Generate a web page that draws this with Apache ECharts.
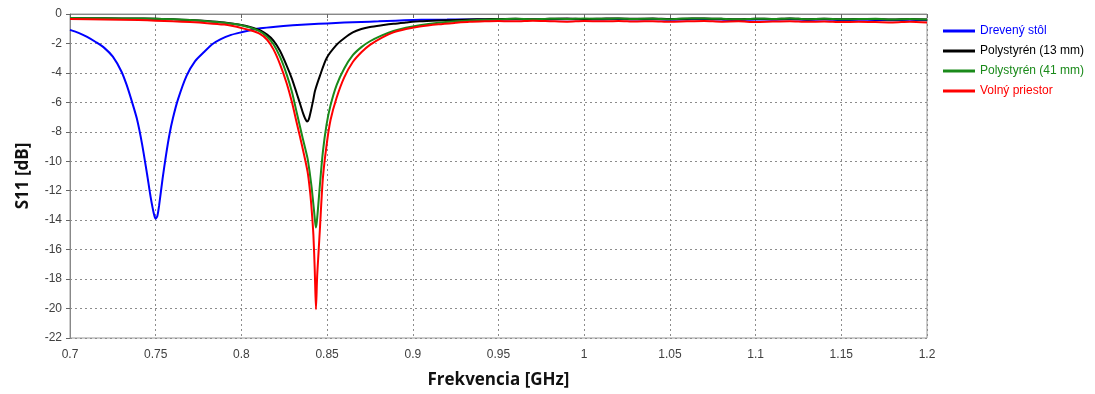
<!DOCTYPE html>
<html>
<head>
<meta charset="utf-8">
<script src="https://cdn.jsdelivr.net/npm/echarts@6/dist/echarts.min.js"></script>
<style>html,body{margin:0;padding:0;background:#fff}#c{width:1095px;height:394px}</style>
</head>
<body>
<div id="c"></div>
<script>
var seriesNames = ['Drevený stôl', 'Polystyrén (13 mm)', 'Polystyrén (41 mm)', 'Volný priestor'];
var xTicks = [0.7, 0.75, 0.8, 0.85, 0.9, 0.95, 1, 1.05, 1.1, 1.15, 1.2];
var yTicks = [0, -2, -4, -6, -8, -10, -12, -14, -16, -18, -20, -22];

var flatFreq = [0.95, 0.96, 0.97, 0.98, 0.99, 1.0, 1.01, 1.02, 1.03, 1.04, 1.05, 1.06, 1.07, 1.08, 1.09, 1.1, 1.11, 1.12, 1.13, 1.14, 1.15, 1.16, 1.17, 1.18, 1.19, 1.2];

var drevenyFreq = [0.700, 0.705, 0.710, 0.715, 0.720, 0.725, 0.730, 0.733, 0.736, 0.739, 0.742, 0.745, 0.747, 0.749, 0.750, 0.751, 0.752, 0.754, 0.756, 0.758, 0.760, 0.763, 0.768, 0.773, 0.778, 0.783, 0.788, 0.794, 0.800, 0.806, 0.811, 0.820, 0.830, 0.840, 0.850, 0.860, 0.870, 0.880, 0.890, 0.900, 0.910, 0.920, 0.930, 0.940];
var drevenyS11 = [-1.08, -1.28, -1.55, -1.9, -2.3, -2.9, -3.9, -4.8, -5.9, -7.1, -8.8, -10.9, -12.4, -13.6, -13.9, -13.7, -13.0, -11.2, -9.6, -8.2, -7.1, -5.8, -4.2, -3.2, -2.6, -2.05, -1.7, -1.42, -1.24, -1.08, -0.97, -0.86, -0.77, -0.70, -0.64, -0.58, -0.54, -0.5, -0.45, -0.41, -0.39, -0.38, -0.37, -0.37];
var drevenyFlat = [-0.38, -0.36, -0.39, -0.37, -0.35, -0.38, -0.37, -0.34, -0.38, -0.36, -0.39, -0.37, -0.35, -0.38, -0.4, -0.37, -0.39, -0.36, -0.4, -0.38, -0.41, -0.39, -0.4, -0.42, -0.39, -0.43];

var poly13Freq = [0.700, 0.720, 0.740, 0.750, 0.760, 0.770, 0.780, 0.790, 0.800, 0.805, 0.8108, 0.815, 0.8187, 0.8225, 0.8264, 0.8295, 0.8323, 0.8345, 0.836, 0.8372, 0.8383, 0.8393, 0.8405, 0.8418, 0.843, 0.8458, 0.8497, 0.8555, 0.860, 0.865, 0.870, 0.875, 0.882, 0.8887, 0.896, 0.904, 0.915, 0.925, 0.933, 0.942];
var poly13S11 = [-0.28, -0.29, -0.31, -0.32, -0.36, -0.41, -0.48, -0.58, -0.74, -0.88, -1.1, -1.4, -1.8, -2.5, -3.5, -4.4, -5.4, -6.2, -6.75, -7.1, -7.3, -7.15, -6.6, -5.9, -5.2, -4.2, -3.0, -2.1, -1.65, -1.25, -1.02, -0.88, -0.76, -0.66, -0.58, -0.5, -0.44, -0.4, -0.37, -0.35];
var poly13Flat = [-0.34, -0.32, -0.35, -0.33, -0.31, -0.34, -0.32, -0.3, -0.33, -0.31, -0.34, -0.32, -0.3, -0.33, -0.35, -0.32, -0.34, -0.31, -0.35, -0.33, -0.36, -0.34, -0.35, -0.37, -0.34, -0.38];

var poly41Freq = [0.700, 0.720, 0.740, 0.750, 0.760, 0.770, 0.780, 0.790, 0.800, 0.805, 0.8108, 0.815, 0.8187, 0.8225, 0.8264, 0.8295, 0.8323, 0.8355, 0.8386, 0.840, 0.841, 0.8418, 0.8425, 0.843, 0.8435, 0.844, 0.8447, 0.8458, 0.8475, 0.8497, 0.852, 0.8555, 0.860, 0.865, 0.870, 0.875, 0.882, 0.8887, 0.896, 0.904, 0.915, 0.925, 0.933, 0.942];
var poly41S11 = [-0.27, -0.29, -0.31, -0.32, -0.36, -0.41, -0.49, -0.6, -0.76, -0.92, -1.18, -1.55, -2.05, -2.9, -4.1, -5.3, -6.7, -8.3, -9.8, -10.9, -11.8, -12.7, -13.5, -14.1, -14.5, -14.1, -13.2, -11.6, -9.4, -7.5, -6.2, -4.84, -3.7, -2.8, -2.25, -1.85, -1.45, -1.15, -0.93, -0.76, -0.6, -0.5, -0.44, -0.39];
var poly41Flat = [-0.36, -0.33, -0.35, -0.32, -0.34, -0.31, -0.33, -0.3, -0.34, -0.32, -0.35, -0.31, -0.3, -0.33, -0.36, -0.32, -0.34, -0.31, -0.35, -0.33, -0.36, -0.34, -0.33, -0.37, -0.34, -0.38];

var volnyFreq = [0.700, 0.720, 0.740, 0.750, 0.760, 0.770, 0.780, 0.790, 0.795, 0.800, 0.805, 0.8108, 0.815, 0.8187, 0.8225, 0.8264, 0.8295, 0.8323, 0.8355, 0.8386, 0.840, 0.841, 0.842, 0.8428, 0.8435, 0.8442, 0.845, 0.8458, 0.8475, 0.8497, 0.852, 0.8555, 0.860, 0.865, 0.870, 0.875, 0.882, 0.8887, 0.896, 0.904, 0.915, 0.925, 0.933, 0.942];
var volnyS11 = [-0.34, -0.37, -0.41, -0.45, -0.5, -0.55, -0.62, -0.72, -0.82, -0.95, -1.1, -1.35, -1.75, -2.4, -3.4, -4.7, -6.0, -7.4, -9.0, -10.7, -12.0, -13.3, -15.0, -17.4, -20.05, -17.8, -16.2, -14.6, -11.2, -8.9, -7.2, -5.7, -4.3, -3.26, -2.6, -2.1, -1.6, -1.25, -1.02, -0.85, -0.7, -0.6, -0.53, -0.49];
var volnyFlat = [-0.47, -0.5, -0.46, -0.49, -0.52, -0.48, -0.5, -0.47, -0.51, -0.49, -0.53, -0.5, -0.48, -0.52, -0.5, -0.54, -0.51, -0.49, -0.53, -0.51, -0.55, -0.52, -0.54, -0.57, -0.53, -0.58];

function pairs(fx, fy, flat) {
  var out = [];
  for (var i = 0; i < fx.length; i++) out.push([fx[i], fy[i]]);
  for (var j = 0; j < flatFreq.length; j++) out.push([flatFreq[j], flat[j]]);
  return out;
}

var colors = ['#0000ff', '#000000', '#1a8a1a', '#ff0000'];
var dataSets = [
  pairs(drevenyFreq, drevenyS11, drevenyFlat),
  pairs(poly13Freq, poly13S11, poly13Flat),
  pairs(poly41Freq, poly41S11, poly41Flat),
  pairs(volnyFreq, volnyS11, volnyFlat)
];

var chart = echarts.init(document.getElementById('c'));
var gridLine = { show: true, lineStyle: { color: '#8c8c8c', type: [2, 3], width: 1 } };
chart.setOption({
  animation: false,
  backgroundColor: '#ffffff',
  grid: { left: 70, right: 168, top: 14, bottom: 54, show: true, borderColor: '#999', borderWidth: 1, backgroundColor: 'transparent' },
  legend: {
    orient: 'vertical', left: 938, top: 20, itemGap: 8, itemWidth: 32, itemHeight: 3,
    icon: 'rect',
    textStyle: { fontFamily: 'Liberation Sans', fontSize: 12 },
    data: seriesNames.map(function (n, i) { return { name: n, textStyle: { color: colors[i] } }; })
  },
  xAxis: {
    type: 'value', min: xTicks[0], max: xTicks[xTicks.length - 1], interval: 0.05,
    name: 'Frekvencia [GHz]', nameLocation: 'middle', nameGap: 34,
    nameTextStyle: { fontFamily: 'Open Sans', fontWeight: 'bold', fontSize: 17, color: '#111' },
    axisLine: { lineStyle: { color: '#888' } },
    axisTick: { show: true, length: 4, lineStyle: { color: '#666' } },
    axisLabel: { fontFamily: 'Liberation Sans', fontSize: 12, color: '#404040', margin: 11,
      formatter: function (v) { return String(parseFloat(v.toFixed(2))); } },
    splitLine: gridLine
  },
  yAxis: {
    type: 'value', min: yTicks[yTicks.length - 1], max: yTicks[0], interval: 2,
    name: 'S11 [dB]', nameLocation: 'middle', nameGap: 38, nameRotate: 90,
    nameTextStyle: { fontFamily: 'Open Sans', fontWeight: 'bold', fontSize: 17, color: '#111' },
    axisLine: { show: true, lineStyle: { color: '#888' } },
    axisTick: { show: true, length: 4, lineStyle: { color: '#666' } },
    axisLabel: { fontFamily: 'Liberation Sans', fontSize: 12, color: '#404040', margin: 8 },
    splitLine: gridLine
  },
  series: seriesNames.map(function (n, i) {
    return {
      name: n, type: 'line', data: dataSets[i], showSymbol: false, symbol: 'none',
      smooth: 0.25, lineStyle: { color: colors[i], width: 2 }, itemStyle: { color: colors[i] },
      z: 2 + i
    };
  })
});
</script>
</body>
</html>
